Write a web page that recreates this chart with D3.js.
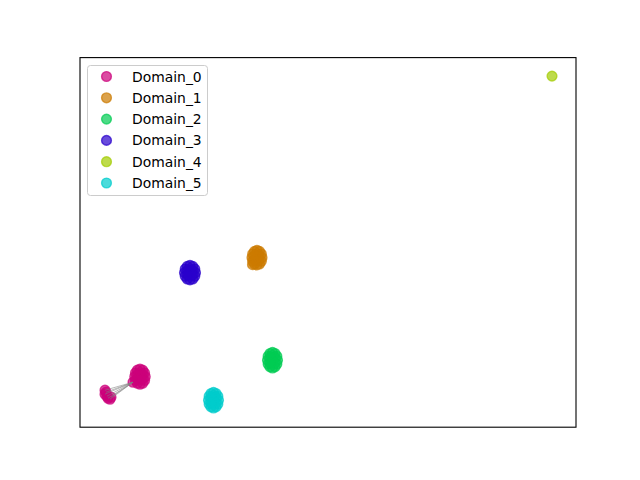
<!DOCTYPE html>
<html>
<head>
<meta charset="utf-8">
<script src="https://cdn.jsdelivr.net/npm/d3@7"></script>
<style>
html,body{margin:0;padding:0;background:#fff;}
svg{display:block;font-family:"DejaVu Sans",sans-serif;}
</style>
</head>
<body>
<svg id="chart" width="640" height="480"></svg>
<script>
// Domain names and colours
const domains = ["Domain_0","Domain_1","Domain_2","Domain_3","Domain_4","Domain_5"];
const colors = ["#cc007a","#cc7a00","#00cc52","#2900cc","#a3cc00","#00cccc"];

// Axis limits of the embedding plot
const xLimits = [-49.6, 49.6];
const yLimits = [-37.0, 36.9];

// Embedding coordinates per domain (x, y)
const d0x = [-36.55,-36.69,-37.07,-37.6,-38.13,-38.51,-38.65,-38.51,-38.13,-37.6,-37.07,-36.69,-37.6,-37.1,-38.1,-37.1,-38.1,
             -39.0,
             -44.6,-44.4,-44.6,-44.2,-44.0,-43.6,-43.4];
const d0y = [-26.9,-26.15,-25.6,-25.4,-25.6,-26.15,-26.9,-27.65,-28.2,-28.4,-28.2,-27.65,-26.9,-26.4,-26.4,-27.4,-27.4,
             -28.0,
             -29.6,-30.0,-30.4,-30.8,-31.2,-31.4,-31.0];
const d1x = [-13.2,-13.33,-13.7,-14.2,-14.7,-15.07,-15.2,-15.07,-14.7,-14.2,-13.7,-13.33,-14.2,-13.75,-14.65,-13.75,-14.65,-15.1];
const d1y = [-3.1,-2.37,-1.84,-1.65,-1.84,-2.37,-3.1,-3.83,-4.36,-4.55,-4.36,-3.83,-3.1,-2.6,-2.6,-3.6,-3.6,-4.5];
const d2x = [-10.1,-10.23,-10.6,-11.1,-11.6,-11.97,-12.1,-11.97,-11.6,-11.1,-10.6,-10.23,-11.1,-10.65,-11.55,-10.65,-11.55];
const d2y = [-23.6,-22.82,-22.26,-22.05,-22.26,-22.82,-23.6,-24.38,-24.94,-25.15,-24.94,-24.38,-23.6,-23.0,-23.0,-24.2,-24.2];
const d3x = [-26.5,-26.65,-27.05,-27.6,-28.15,-28.55,-28.7,-28.55,-28.15,-27.6,-27.05,-26.65,-27.6,-27.1,-28.1,-27.1,-28.1];
const d3y = [-6.1,-5.37,-4.84,-4.65,-4.84,-5.37,-6.1,-6.83,-7.36,-7.55,-7.36,-6.83,-6.1,-5.6,-5.6,-6.6,-6.6];
const d4x = [44.8];
const d4y = [33.2];
const d5x = [-21.9,-22.03,-22.4,-22.9,-23.4,-23.77,-23.9,-23.77,-23.4,-22.9,-22.4,-22.03,-22.9,-22.45,-23.35,-22.45,-23.35];
const d5y = [-31.6,-30.82,-30.26,-30.05,-30.26,-30.82,-31.6,-32.38,-32.94,-33.15,-32.94,-32.38,-31.6,-31.0,-31.0,-32.2,-32.2];

// Links: outlier point -> anchor point (indices into Domain_0 arrays)
const linkFrom = [18,19,20,21,22,23,24];
const linkTo = [17,17,17,17,17,17,17];

const allX = [d0x,d1x,d2x,d3x,d4x,d5x];
const allY = [d0y,d1y,d2y,d3y,d4y,d5y];

(function(){
const svg = d3.select("#chart");
const W = 640, H = 480;
const axL = 80, axR = 576, axT = 57.6, axB = 427.2;

const x = d3.scaleLinear().domain(xLimits).range([axL, axR]);
const y = d3.scaleLinear().domain(yLimits).range([axB, axT]);

svg.append("rect").attr("width",W).attr("height",H).attr("fill","#fff");

const clipId = "clipAx";
svg.append("clipPath").attr("id",clipId).append("rect")
  .attr("x",axL).attr("y",axT).attr("width",axR-axL).attr("height",axB-axT);

const plot = svg.append("g").attr("clip-path",`url(#${clipId})`);

const r = 4.9;
domains.forEach((name,i)=>{
  const pts = allX[i].map((v,j)=>[v, allY[i][j]]);
  plot.append("g").selectAll("circle").data(pts).join("circle")
    .attr("cx",d=>x(d[0])).attr("cy",d=>y(d[1])).attr("r",r)
    .attr("fill",colors[i]).attr("fill-opacity",0.7)
    .attr("stroke",colors[i]).attr("stroke-opacity",0.7).attr("stroke-width",1.39);
});

plot.append("g").selectAll("line").data(linkFrom.map((f,k)=>[f,linkTo[k]])).join("line")
  .attr("x1",d=>x(d0x[d[0]])).attr("y1",d=>y(d0y[d[0]]))
  .attr("x2",d=>x(d0x[d[1]])).attr("y2",d=>y(d0y[d[1]]))
  .attr("stroke","#808080").attr("stroke-opacity",0.7).attr("stroke-width",0.8);

// axes frame
svg.append("rect").attr("x",axL).attr("y",axT).attr("width",axR-axL).attr("height",axB-axT)
  .attr("fill","none").attr("stroke","#000").attr("stroke-width",1.1);

// legend
const lg = svg.append("g");
const lx = 87, ly = 65, lw = 120, lh = 130;
lg.append("rect").attr("x",lx+0.5).attr("y",ly+0.5).attr("width",lw).attr("height",lh)
  .attr("rx",3).attr("fill","#fff").attr("fill-opacity",0.8)
  .attr("stroke","#cccccc").attr("stroke-width",1);
domains.forEach((name,i)=>{
  const cy = ly + 11.5 + i*21.3;
  lg.append("circle").attr("cx",lx+19.5).attr("cy",cy).attr("r",r)
    .attr("fill",colors[i]).attr("fill-opacity",0.7)
    .attr("stroke",colors[i]).attr("stroke-opacity",0.7).attr("stroke-width",1.39);
  lg.append("text").attr("x",lx+45).attr("y",cy).attr("dy","0.36em")
    .attr("font-size","13.9px").attr("fill","#000").text(name);
});
})();
</script>
</body>
</html>
